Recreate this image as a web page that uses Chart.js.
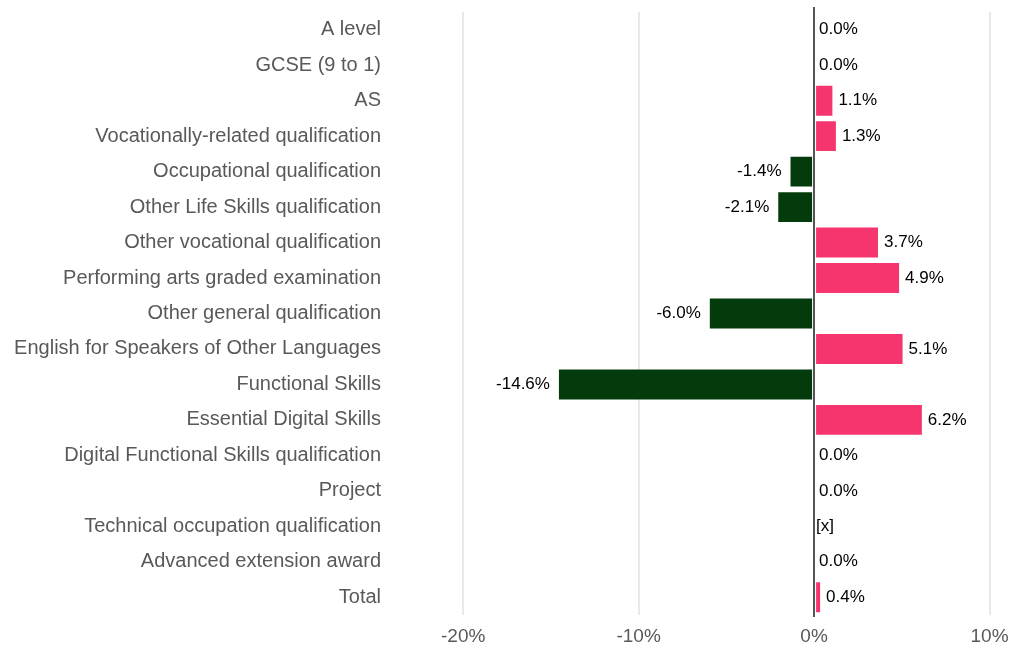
<!DOCTYPE html>
<html>
<head>
<meta charset="utf-8">
<script src="https://cdn.jsdelivr.net/npm/chart.js@4"></script>
<style>
html,body{margin:0;padding:0;background:#fff;}
#wrap{width:1022px;height:648px;position:relative;}
</style>
</head>
<body>
<div id="wrap"><canvas id="c" width="1022" height="648"></canvas></div>
<script>
const categories = [
  "A level",
  "GCSE (9 to 1)",
  "AS",
  "Vocationally-related qualification",
  "Occupational qualification",
  "Other Life Skills qualification",
  "Other vocational qualification",
  "Performing arts graded examination",
  "Other general qualification",
  "English for Speakers of Other Languages",
  "Functional Skills",
  "Essential Digital Skills",
  "Digital Functional Skills qualification",
  "Project",
  "Technical occupation qualification",
  "Advanced extension award",
  "Total"
];
const changePct = [0.0, 0.0, 1.1, 1.3, -1.4, -2.1, 3.7, 4.9, -6.0, 5.1, -14.6, 6.2, 0.0, 0.0, null, 0.0, 0.4];
const xTickValues = [-20, -10, 0, 10];

const POS = "#f6346d", NEG = "#043b0c";

const labelPlugin = {
  id: "valueLabels",
  afterDatasetsDraw(chart) {
    const ctx = chart.ctx;
    const meta = chart.getDatasetMeta(0);
    const xs = chart.scales.x;
    const zero = xs.getPixelForValue(0);
    ctx.save();
    ctx.font = "17px 'Liberation Sans', Arial, sans-serif";
    ctx.fillStyle = "#000";
    ctx.textBaseline = "middle";
    meta.data.forEach((bar, i) => {
      const v = changePct[i];
      const y = bar.y;
      if (v === null) {
        ctx.textAlign = "left";
        ctx.fillText("[x]", zero + 2, y);
        return;
      }
      const txt = v.toFixed(1) + "%";
      if (v < 0) {
        ctx.textAlign = "right";
        ctx.fillText(txt, xs.getPixelForValue(v) - 8, y);
      } else {
        ctx.textAlign = "left";
        ctx.fillText(txt, xs.getPixelForValue(v) + 5, y);
      }
    });
    ctx.restore();
  }
};

const zeroLinePlugin = {
  id: "zeroLine",
  afterDatasetsDraw(chart) {
    const ctx = chart.ctx;
    const xs = chart.scales.x;
    const a = chart.chartArea;
    const x = Math.round(xs.getPixelForValue(0));
    ctx.save();
    ctx.strokeStyle = "#555555";
    ctx.lineWidth = 2;
    ctx.beginPath();
    ctx.moveTo(x, a.top - 5);
    ctx.lineTo(x, a.bottom + 2);
    ctx.stroke();
    ctx.restore();
  }
};

new Chart(document.getElementById("c"), {
  type: "bar",
  data: {
    labels: categories,
    datasets: [{
      data: changePct,
      backgroundColor: changePct.map(v => (v !== null && v < 0) ? NEG : POS),
      borderColor: "rgba(255,255,255,0.35)",
      borderWidth: 1,
      borderSkipped: false,
      barPercentage: 0.9,
      categoryPercentage: 1.0
    }]
  },
  options: {
    indexAxis: "y",
    responsive: false,
    animation: false,
    layout: { padding: { top: 12, right: 0, bottom: 0, left: 0 } },
    plugins: { legend: { display: false }, tooltip: { enabled: false } },
    scales: {
      x: {
        min: -24,
        max: 11.85,
        afterBuildTicks(scale) { scale.ticks = xTickValues.map(v => ({ value: v })); },
        grid: { color: "#e8e8e8", lineWidth: 2, drawTicks: false },
        border: { display: false },
        ticks: {
          color: "#595959",
          font: { family: "'Liberation Sans', Arial, sans-serif", size: 19 },
          padding: 10,
          callback: v => v + "%"
        },
        afterFit(scale) { scale.height = 33; scale.paddingLeft = 0; scale.paddingRight = 0; }
      },
      y: {
        grid: { display: false, drawTicks: false },
        border: { display: false },
        ticks: {
          color: "#595959",
          font: { family: "'Liberation Sans', Arial, sans-serif", size: 20 },
          padding: 12,
          autoSkip: false
        },
        afterFit(scale) { scale.width = 393; scale.paddingTop = 0; scale.paddingBottom = 0; }
      }
    }
  },
  plugins: [zeroLinePlugin, labelPlugin]
});
</script>
</body>
</html>
